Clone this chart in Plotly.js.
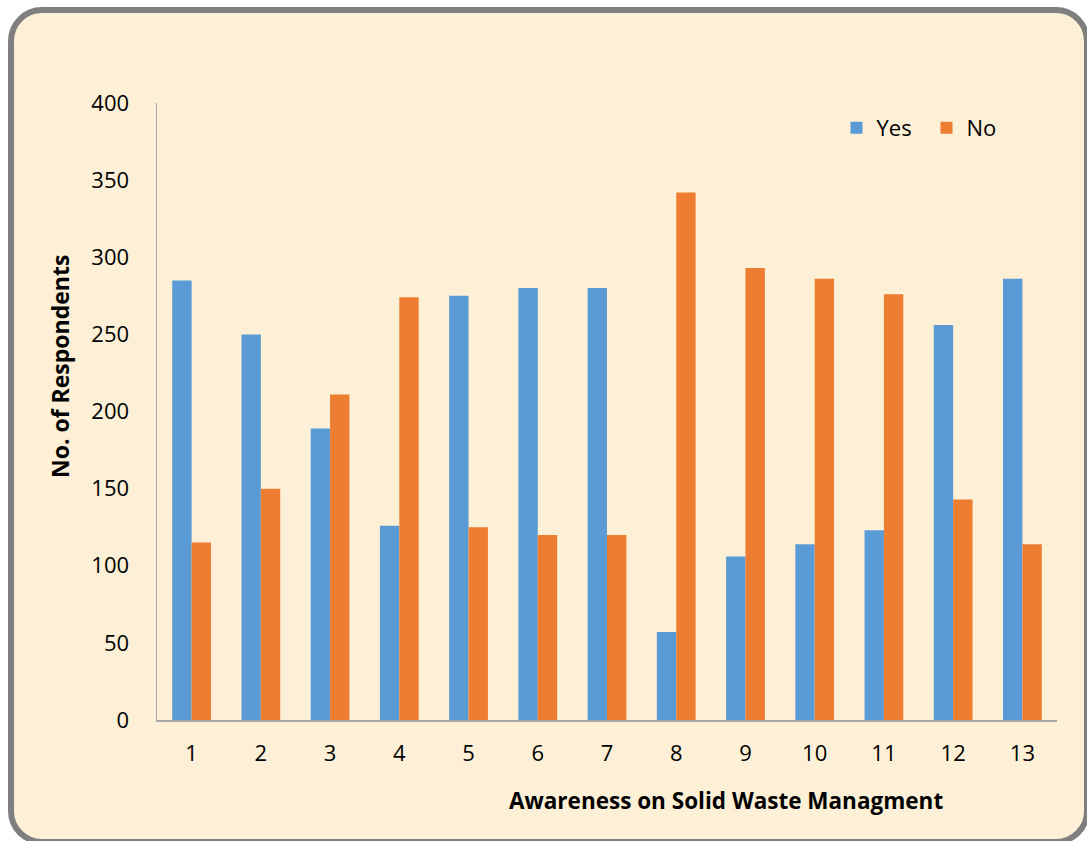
<!DOCTYPE html>
<html>
<head>
<meta charset="utf-8">
<script src="https://cdn.plot.ly/plotly-3.0.1.min.js"></script>
<style>
  html, body { margin: 0; padding: 0; background: #ffffff; overflow: hidden; }
  #frame {
    position: absolute; left: 8px; top: 7px; width: 1082px; height: 838px;
    box-sizing: border-box; border: 6px solid #7f7f7f; border-radius: 34px;
    background: #fdf0d6;
  }
  #chart { position: absolute; left: 0; top: 0; width: 1087px; height: 841px; }
</style>
</head>
<body>
<div id="frame"></div>
<div id="chart"></div>
<script>
// Survey responses per awareness question
const questions = ["1", "2", "3", "4", "5", "6", "7", "8", "9", "10", "11", "12", "13"];
const yesCounts = [285, 250, 189, 126, 275, 280, 280, 57, 106, 114, 123, 256, 286];
const noCounts  = [115, 150, 211, 274, 125, 120, 120, 342, 293, 286, 276, 143, 114];
const yTicks = [0, 50, 100, 150, 200, 250, 300, 350, 400];

const font = "'Open Sans', 'Noto Sans', sans-serif";

const traces = [
  { type: "bar", name: "Yes", x: questions, y: yesCounts,
    marker: { color: "#5b9bd5" }, hoverinfo: "x+y+name" },
  { type: "bar", name: "No", x: questions, y: noCounts,
    marker: { color: "#ed7d31" }, hoverinfo: "x+y+name" }
];

const layout = {
  width: 1087, height: 841,
  margin: { l: 157, r: 30, t: 103, b: 121 },
  paper_bgcolor: "rgba(0,0,0,0)",
  plot_bgcolor: "rgba(0,0,0,0)",
  barmode: "group",
  bargap: 0.44,
  bargroupgap: 0,
  font: { family: font, size: 22, color: "#000000" },
  showlegend: true,
  legend: {
    orientation: "h", x: 0.755, xanchor: "left", y: 0.9595, yanchor: "middle",
    bgcolor: "rgba(0,0,0,0)", font: { family: font, size: 22, color: "#000" },
    itemwidth: 30, entrywidth: 45, entrywidthmode: "pixels", traceorder: "normal"
  },
  xaxis: {
    type: "category",
    showline: true, linecolor: "#a6a6a6", linewidth: 1.5,
    showgrid: false, zeroline: false, ticks: "",
    ticklabelstandoff: 13,
    tickfont: { family: font, size: 22, color: "#000" }
  },
  yaxis: {
    range: [0, 400],
    tickvals: yTicks,
    ticktext: yTicks.map(String),
    showline: true, linecolor: "#a6a6a6", linewidth: 1.5,
    showgrid: false, zeroline: false, ticks: "",
    ticklabelstandoff: 22,
    tickfont: { family: font, size: 22, color: "#000" }
  },
  annotations: [
    { text: "<b>Awareness on Solid Waste Managment</b>", xref: "paper", yref: "paper",
      x: (726 - 157) / 900, y: -(800 - 720) / 617, xanchor: "center", yanchor: "middle",
      showarrow: false, font: { family: font, size: 22.5, color: "#000" } },
    { text: "<b>No. of Respondents</b>", xref: "paper", yref: "paper",
      x: -(157 - 60) / 900, y: (720 - 367) / 617, xanchor: "center", yanchor: "middle",
      textangle: -90, showarrow: false, font: { family: font, size: 23, color: "#000" } }
  ]
};

Plotly.newPlot("chart", traces, layout, { displayModeBar: false, staticPlot: true });
</script>
</body>
</html>
